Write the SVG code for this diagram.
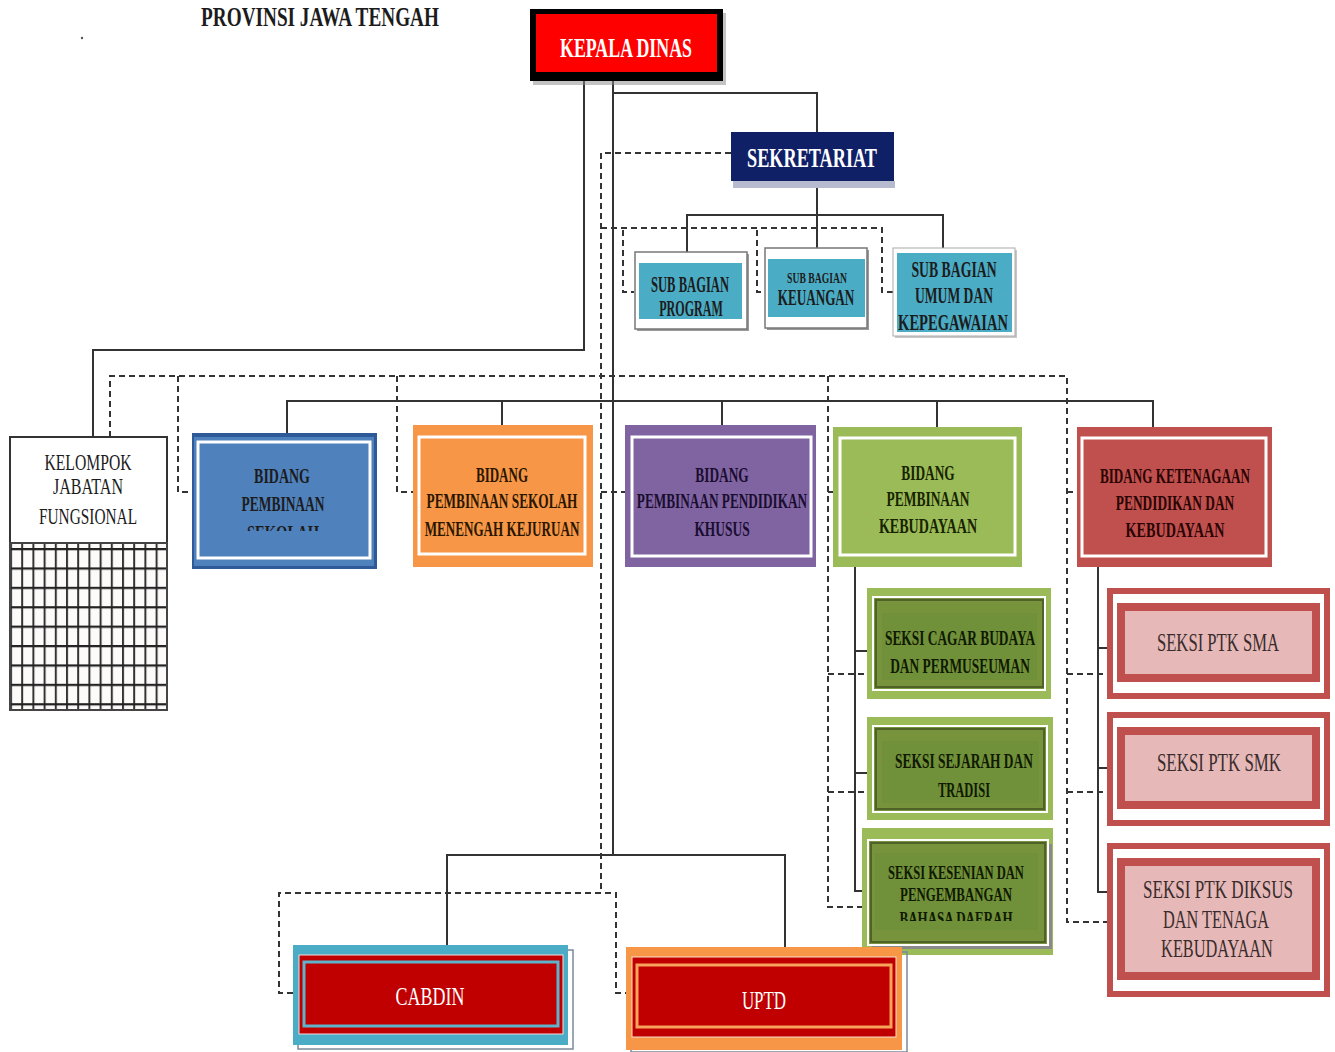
<svg xmlns="http://www.w3.org/2000/svg" width="1335" height="1052" viewBox="0 0 1335 1052">
<defs>
<style>
.t{font-family:"Liberation Serif","DejaVu Serif",serif;text-anchor:middle;}
.b{font-weight:bold;}
.wh{fill:#ffffff;}
.dk{fill:#1c1c1c;}
.solid{stroke:#333;stroke-width:2;fill:none;}
.dash{stroke:#333;stroke-width:2;fill:none;stroke-dasharray:6 4;}
.wframe{fill:none;stroke:#ffffff;stroke-width:3;}
</style>
<pattern id="grid" patternUnits="userSpaceOnUse" x="10" y="548" width="11.2" height="19.4">
<rect x="0" y="0" width="11.2" height="19.4" fill="#fdfafa"/>
<line x1="1" y1="0" x2="1" y2="19.4" stroke="#333" stroke-width="2"/>
<line x1="0" y1="1" x2="11.2" y2="1" stroke="#222" stroke-width="2.5"/>
</pattern>
<clipPath id="cProg"><rect x="638" y="263" width="104" height="56"/></clipPath>
<clipPath id="cUmum"><rect x="897" y="253" width="115" height="79"/></clipPath>
<clipPath id="cBlue"><rect x="198" y="442" width="172" height="89"/></clipPath>
<clipPath id="cKes"><rect x="875" y="853" width="163" height="68"/></clipPath>
</defs>
<rect width="1335" height="1052" fill="#ffffff"/>

<g id="title">
<text class="t b dk" transform="translate(320 0) scale(0.65 1)" x="0" y="26" font-size="27" textLength="366" lengthAdjust="spacingAndGlyphs">PROVINSI JAWA TENGAH</text>
<circle cx="82" cy="38" r="1.2" fill="#555"/>
</g>

<g id="connectors">
<path class="solid" d="M584 80 V350 H93 V437"/>
<path class="solid" d="M613 80 V855"/>
<path class="solid" d="M613 93 H817 V132"/>
<path class="solid" d="M817 188 V215"/>
<path class="solid" d="M687 252 V215 H943 V248"/>
<path class="solid" d="M817 215 V248"/>
<path class="solid" d="M287 433 V401 H1153 V427"/>
<path class="solid" d="M502 401 V425"/>
<path class="solid" d="M722 401 V425"/>
<path class="solid" d="M937 401 V427"/>
<path class="solid" d="M855 567 V891 H862"/>
<path class="solid" d="M855 651 H867"/>
<path class="solid" d="M855 773 H867"/>
<path class="solid" d="M1098 567 V892 H1107"/>
<path class="solid" d="M1098 648 H1107"/>
<path class="solid" d="M1098 768 H1107"/>
<path class="solid" d="M447 957 V855 H785 V957"/>

<path class="dash" d="M731 153 H601 V893"/>
<path class="dash" d="M601 228 H882 V292 H893"/>
<path class="dash" d="M623 230 V292 H634"/>
<path class="dash" d="M757 230 V292 H765"/>
<path class="dash" d="M110 437 V376 H1067 V922 H1107"/>
<path class="dash" d="M178 376 V492 H192"/>
<path class="dash" d="M397 376 V492 H413"/>
<path class="dash" d="M601 492 H625"/>
<path class="dash" d="M828 376 V907 H862"/>
<path class="dash" d="M828 492 H833"/>
<path class="dash" d="M828 674 H867"/>
<path class="dash" d="M828 792 H867"/>
<path class="dash" d="M1067 492 H1077"/>
<path class="dash" d="M1067 674 H1107"/>
<path class="dash" d="M1067 792 H1107"/>
<path class="dash" d="M293 993 H279 V893 H616 V993 H626"/>
</g>

<g id="kepala-dinas">
<rect x="533" y="13" width="193" height="72" fill="#888" opacity="0.5"/>
<rect x="530" y="9" width="193" height="72" fill="#000"/>
<rect x="536" y="14" width="181" height="58" fill="#FF0000"/>
<text class="t b wh" transform="translate(626 0) scale(0.65 1)" x="0" y="57" font-size="27" textLength="203" lengthAdjust="spacingAndGlyphs">KEPALA DINAS</text>
</g>

<g id="sekretariat">
<rect x="733" y="181" width="162" height="7" fill="#B7BBD0"/>
<rect x="731" y="132" width="163" height="49" fill="#0F2067"/>
<text class="t b wh" transform="translate(812 0) scale(0.65 1)" x="0" y="167" font-size="27" textLength="200" lengthAdjust="spacingAndGlyphs">SEKRETARIAT</text>
</g>

<g id="sub-bagian-program">
<rect x="637" y="254" width="112" height="77" fill="#9a9a9a"/>
<rect x="635" y="252" width="112" height="77" fill="#ffffff" stroke="#777" stroke-width="1.5"/>
<rect x="639" y="263" width="103" height="56" fill="#4BACC6"/>
<g clip-path="url(#cProg)">
<text class="t b dk" transform="translate(690 0) scale(0.65 1)" x="0" y="292" font-size="23" textLength="120" lengthAdjust="spacingAndGlyphs">SUB BAGIAN</text>
<text class="t b dk" transform="translate(691 0) scale(0.65 1)" x="0" y="316" font-size="23" textLength="98" lengthAdjust="spacingAndGlyphs">PROGRAM</text>
</g>
</g>

<g id="sub-bagian-keuangan">
<rect x="767" y="250" width="102" height="80" fill="#9a9a9a"/>
<rect x="765" y="248" width="102" height="80" fill="#ffffff" stroke="#777" stroke-width="1.5"/>
<rect x="768" y="259" width="97" height="58" fill="#4BACC6"/>
<text class="t b dk" transform="translate(817 0) scale(0.65 1)" x="0" y="283" font-size="15" textLength="92" lengthAdjust="spacingAndGlyphs">SUB BAGIAN</text>
<text class="t b dk" transform="translate(816 0) scale(0.65 1)" x="0" y="305" font-size="23" textLength="118" lengthAdjust="spacingAndGlyphs">KEUANGAN</text>
</g>

<g id="sub-bagian-umum">
<rect x="895" y="250" width="122" height="88" fill="#c9c9c9"/>
<rect x="893" y="248" width="122" height="88" fill="#ffffff" stroke="#aaa" stroke-width="1"/>
<rect x="897" y="253" width="115" height="79" fill="#4BACC6"/>
<g clip-path="url(#cUmum)">
<text class="t b dk" transform="translate(954 0) scale(0.65 1)" x="0" y="277" font-size="24" textLength="131" lengthAdjust="spacingAndGlyphs">SUB BAGIAN</text>
<text class="t b dk" transform="translate(954 0) scale(0.65 1)" x="0" y="303" font-size="24" textLength="120" lengthAdjust="spacingAndGlyphs">UMUM DAN</text>
<text class="t b dk" transform="translate(953 0) scale(0.65 1)" x="0" y="330" font-size="24" textLength="169" lengthAdjust="spacingAndGlyphs">KEPEGAWAIAN</text>
</g>
</g>

<g id="kelompok-jabatan-fungsional">
<rect x="10" y="437" width="157" height="106" fill="#ffffff" stroke="#333" stroke-width="2"/>
<rect x="10" y="543" width="157" height="167" fill="url(#grid)" stroke="#444" stroke-width="2"/>
<text class="t dk" transform="translate(88 0) scale(0.65 1)" x="0" y="470" font-size="24" textLength="134" lengthAdjust="spacingAndGlyphs">KELOMPOK</text>
<text class="t dk" transform="translate(88 0) scale(0.65 1)" x="0" y="494" font-size="24" textLength="108" lengthAdjust="spacingAndGlyphs">JABATAN</text>
<text class="t dk" transform="translate(88 0) scale(0.65 1)" x="0" y="524" font-size="24" textLength="151" lengthAdjust="spacingAndGlyphs">FUNGSIONAL</text>
</g>

<g id="bidang-pembinaan-sekolah">
<rect x="192" y="433" width="185" height="136" fill="#2F5A9A"/>
<rect x="194" y="437" width="180" height="129" fill="#4F81BD"/>
<rect class="wframe" x="198" y="442" width="172" height="116"/>
<g clip-path="url(#cBlue)">
<text class="t b dk" transform="translate(282 0) scale(0.65 1)" x="0" y="483" font-size="21" textLength="86" lengthAdjust="spacingAndGlyphs">BIDANG</text>
<text class="t b dk" transform="translate(283 0) scale(0.65 1)" x="0" y="511" font-size="21" textLength="128" lengthAdjust="spacingAndGlyphs">PEMBINAAN</text>
<text class="t b dk" transform="translate(283 0) scale(0.65 1)" x="0" y="540" font-size="21" textLength="111" lengthAdjust="spacingAndGlyphs">SEKOLAH</text>
</g>
</g>

<g id="bidang-pembinaan-smk">
<rect x="413" y="425" width="180" height="142" fill="#F79646"/>
<rect class="wframe" x="419" y="437" width="166" height="117"/>
<text class="t b" fill="#2a1600" transform="translate(502 0) scale(0.65 1)" x="0" y="482" font-size="21" textLength="80" lengthAdjust="spacingAndGlyphs">BIDANG</text>
<text class="t b" fill="#2a1600" transform="translate(502 0) scale(0.65 1)" x="0" y="508" font-size="21" textLength="232" lengthAdjust="spacingAndGlyphs">PEMBINAAN SEKOLAH</text>
<text class="t b" fill="#2a1600" transform="translate(502 0) scale(0.65 1)" x="0" y="536" font-size="21" textLength="238" lengthAdjust="spacingAndGlyphs">MENENGAH KEJURUAN</text>
</g>

<g id="bidang-pembinaan-pendidikan-khusus">
<rect x="625" y="425" width="191" height="142" fill="#8064A2"/>
<rect class="wframe" x="632" y="437" width="179" height="119"/>
<text class="t b" fill="#1a0d30" transform="translate(722 0) scale(0.65 1)" x="0" y="482" font-size="21" textLength="82" lengthAdjust="spacingAndGlyphs">BIDANG</text>
<text class="t b" fill="#1a0d30" transform="translate(722 0) scale(0.65 1)" x="0" y="508" font-size="21" textLength="262" lengthAdjust="spacingAndGlyphs">PEMBINAAN PENDIDIKAN</text>
<text class="t b" fill="#1a0d30" transform="translate(722 0) scale(0.65 1)" x="0" y="536" font-size="21" textLength="85" lengthAdjust="spacingAndGlyphs">KHUSUS</text>
</g>

<g id="bidang-pembinaan-kebudayaan">
<rect x="833" y="427" width="189" height="140" fill="#9BBB59"/>
<rect class="wframe" x="840" y="438" width="175" height="117"/>
<text class="t b" fill="#172400" transform="translate(928 0) scale(0.65 1)" x="0" y="480" font-size="21" textLength="82" lengthAdjust="spacingAndGlyphs">BIDANG</text>
<text class="t b" fill="#172400" transform="translate(928 0) scale(0.65 1)" x="0" y="506" font-size="21" textLength="128" lengthAdjust="spacingAndGlyphs">PEMBINAAN</text>
<text class="t b" fill="#172400" transform="translate(928 0) scale(0.65 1)" x="0" y="533" font-size="21" textLength="151" lengthAdjust="spacingAndGlyphs">KEBUDAYAAN</text>
</g>

<g id="bidang-ketenagaan">
<rect x="1077" y="427" width="195" height="140" fill="#C0504D"/>
<rect class="wframe" x="1082" y="438" width="184" height="118"/>
<text class="t b" fill="#2a0404" transform="translate(1175 0) scale(0.65 1)" x="0" y="483" font-size="21" textLength="231" lengthAdjust="spacingAndGlyphs">BIDANG KETENAGAAN</text>
<text class="t b" fill="#2a0404" transform="translate(1175 0) scale(0.65 1)" x="0" y="510" font-size="21" textLength="182" lengthAdjust="spacingAndGlyphs">PENDIDIKAN DAN</text>
<text class="t b" fill="#2a0404" transform="translate(1175 0) scale(0.65 1)" x="0" y="537" font-size="21" textLength="152" lengthAdjust="spacingAndGlyphs">KEBUDAYAAN</text>
</g>

<g id="seksi-cagar-budaya">
<rect x="867" y="588" width="184" height="111" fill="#9BBB59"/>
<rect x="873" y="597" width="172" height="93" fill="#77933C" stroke="#ffffff" stroke-width="2"/>
<rect x="876" y="600" width="167" height="87" fill="none" stroke="#4F6228" stroke-width="2"/>
<rect x="882" y="613" width="155" height="67" fill="#71903A"/>
<text class="t b" fill="#0f1a00" transform="translate(960 0) scale(0.65 1)" x="0" y="645" font-size="20" textLength="231" lengthAdjust="spacingAndGlyphs">SEKSI CAGAR BUDAYA</text>
<text class="t b" fill="#0f1a00" transform="translate(960 0) scale(0.65 1)" x="0" y="673" font-size="20" textLength="215" lengthAdjust="spacingAndGlyphs">DAN PERMUSEUMAN</text>
</g>

<g id="seksi-sejarah">
<rect x="867" y="717" width="186" height="103" fill="#9BBB59"/>
<rect x="873" y="726" width="174" height="86" fill="#77933C" stroke="#ffffff" stroke-width="2"/>
<rect x="876" y="729" width="168" height="80" fill="none" stroke="#4F6228" stroke-width="2"/>
<rect x="882" y="741" width="157" height="62" fill="#71903A"/>
<text class="t b" fill="#0f1a00" transform="translate(964 0) scale(0.65 1)" x="0" y="768" font-size="20" textLength="212" lengthAdjust="spacingAndGlyphs">SEKSI SEJARAH DAN</text>
<text class="t b" fill="#0f1a00" transform="translate(964 0) scale(0.65 1)" x="0" y="797" font-size="20" textLength="80" lengthAdjust="spacingAndGlyphs">TRADISI</text>
</g>

<g id="seksi-kesenian">
<rect x="862" y="828" width="191" height="127" fill="#9BBB59"/>
<rect x="872" y="844" width="180" height="105" fill="#8a8a8a"/>
<rect x="868" y="840" width="180" height="105" fill="#77933C" stroke="#ffffff" stroke-width="2"/>
<rect x="871" y="843" width="174" height="99" fill="none" stroke="#4F6228" stroke-width="2"/>
<rect x="875" y="853" width="163" height="77" fill="#71903A"/>
<g clip-path="url(#cKes)">
<text class="t b" fill="#0f1a00" transform="translate(956 0) scale(0.65 1)" x="0" y="879" font-size="19" textLength="209" lengthAdjust="spacingAndGlyphs">SEKSI KESENIAN DAN</text>
<text class="t b" fill="#0f1a00" transform="translate(956 0) scale(0.65 1)" x="0" y="901" font-size="19" textLength="172" lengthAdjust="spacingAndGlyphs">PENGEMBANGAN</text>
<text class="t b" fill="#0f1a00" transform="translate(956 0) scale(0.65 1)" x="0" y="925" font-size="19" textLength="174" lengthAdjust="spacingAndGlyphs">BAHASA DAERAH</text>
</g>
</g>

<g id="seksi-ptk-sma">
<rect x="1110" y="591" width="217" height="105" fill="#ffffff" stroke="#C0504D" stroke-width="6"/>
<rect x="1121" y="607" width="195" height="71" fill="#E6B9B8" stroke="#C0504D" stroke-width="8"/>
<text class="t" fill="#3a2c2c" transform="translate(1218 0) scale(0.65 1)" x="0" y="651" font-size="25" textLength="188" lengthAdjust="spacingAndGlyphs">SEKSI PTK SMA</text>
</g>

<g id="seksi-ptk-smk">
<rect x="1110" y="715" width="217" height="108" fill="#ffffff" stroke="#C0504D" stroke-width="6"/>
<rect x="1121" y="731" width="195" height="74" fill="#E6B9B8" stroke="#C0504D" stroke-width="8"/>
<text class="t" fill="#3a2c2c" transform="translate(1219 0) scale(0.65 1)" x="0" y="771" font-size="25" textLength="191" lengthAdjust="spacingAndGlyphs">SEKSI PTK SMK</text>
</g>

<g id="seksi-ptk-diksus">
<rect x="1110" y="846" width="217" height="148" fill="#ffffff" stroke="#C0504D" stroke-width="6"/>
<rect x="1121" y="862" width="195" height="114" fill="#E6B9B8" stroke="#C0504D" stroke-width="8"/>
<text class="t" fill="#3a2c2c" transform="translate(1218 0) scale(0.65 1)" x="0" y="898" font-size="25" textLength="231" lengthAdjust="spacingAndGlyphs">SEKSI PTK DIKSUS</text>
<text class="t" fill="#3a2c2c" transform="translate(1216 0) scale(0.65 1)" x="0" y="928" font-size="25" textLength="163" lengthAdjust="spacingAndGlyphs">DAN TENAGA</text>
<text class="t" fill="#3a2c2c" transform="translate(1217 0) scale(0.65 1)" x="0" y="957" font-size="25" textLength="172" lengthAdjust="spacingAndGlyphs">KEBUDAYAAN</text>
</g>

<g id="cabdin">
<rect x="298" y="950" width="275" height="99" fill="none" stroke="#7a8a99" stroke-width="1.5"/>
<rect x="293" y="945" width="275" height="100" fill="#4BACC6"/>
<rect x="299" y="955" width="264" height="79" fill="#C00000" stroke="#f4dede" stroke-width="1"/>
<rect x="304" y="962" width="254" height="64" fill="none" stroke="#5DB4CC" stroke-width="3"/>
<rect x="306" y="965" width="250" height="58" fill="#C00000"/>
<text class="t wh" transform="translate(430 0) scale(0.65 1)" x="0" y="1005" font-size="26" textLength="106" lengthAdjust="spacingAndGlyphs">CABDIN</text>
</g>

<g id="uptd">
<rect x="631" y="952" width="276" height="100" fill="none" stroke="#7a8a99" stroke-width="1.5"/>
<rect x="626" y="947" width="276" height="103" fill="#F79646"/>
<rect x="632" y="957" width="264" height="80" fill="#C00000" stroke="#fbe0c8" stroke-width="1"/>
<rect x="637" y="965" width="254" height="62" fill="none" stroke="#F7A35C" stroke-width="3"/>
<rect x="640" y="968" width="248" height="56" fill="#C00000"/>
<text class="t wh" transform="translate(764 0) scale(0.65 1)" x="0" y="1009" font-size="26" textLength="68" lengthAdjust="spacingAndGlyphs">UPTD</text>
</g>
</svg>
